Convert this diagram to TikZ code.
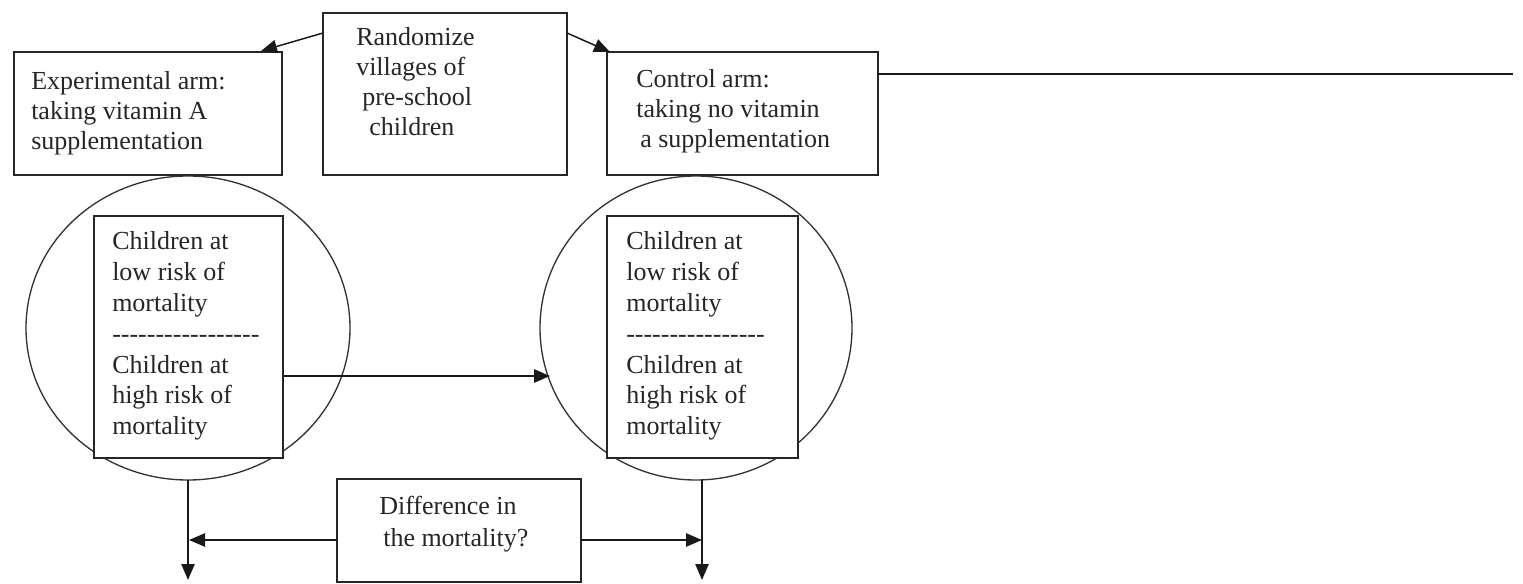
\documentclass[tikz,border=0pt]{standalone}
\usepackage{fontspec}
\setmainfont{Liberation Serif}
\usetikzlibrary{arrows.meta,shapes.geometric,fit}
\newcommand\hy{\mbox{-}}
\tikzset{
  box/.style={draw=black!85, line width=1.2pt, inner sep=0pt},
  txt/.style={anchor=north west, inner sep=0pt, align=left, text=black!85,
              font=\fontsize{19.5}{22.5}\selectfont},
  ell/.style={ellipse, draw=black!80, line width=1pt, inner sep=0pt},
  arr/.style={draw=black!90, line width=1.1pt, -{Triangle[length=12pt,width=10pt]}},
  ln/.style={draw=black!90, line width=1.1pt}
}
\begin{document}
\begin{tikzpicture}[x=0.75pt,y=-0.75pt]
\useasboundingbox (0,0) rectangle (1523,584);
% boxes
\node[box, fit={(323,13)(567,175)}] (rand) {};
\node[box, fit={(14,52)(282,175)}] (exp) {};
\node[box, fit={(607,52)(878,175)}] (ctrl) {};
\node[ell, minimum width=243pt, minimum height=228pt] (lell) at (188,328) {};
\node[ell, minimum width=234pt, minimum height=228pt] (rell) at (696,328) {};
\node[box, fill=white, fit={(94,216)(283,458)}] (linner) {};
\node[box, fill=white, fit={(607,216)(798,458)}] (rinner) {};
\node[box, fit={(337,479)(581,582)}] (diff) {};
% texts
\node[txt] (randtext) at (356,24) {\strut Randomize\\villages of\\\hspace*{4.5pt}pre-school\\\hspace*{9.75pt}children};
\node[txt] (exptext) at (31,68) {\strut Experimental arm:\\taking vitamin A\\supplementation};
\node[txt] (ctrltext) at (636,66) {\strut Control arm:\\taking no vitamin\\\hspace*{3pt}a supplementation};
\node[txt, font=\fontsize{19.5}{23.1}\selectfont] (ltext) at (112,228) {\strut Children at\\low risk of\\mortality\\\hy\hy\hy\hy\hy\hy\hy\hy\hy\hy\hy\hy\hy\hy\hy\hy\hy\\Children at\\high risk of\\mortality};
\node[txt, font=\fontsize{19.5}{23.1}\selectfont] (rtext) at (626,228) {\strut Children at\\low risk of\\mortality\\\hy\hy\hy\hy\hy\hy\hy\hy\hy\hy\hy\hy\hy\hy\hy\hy\\Children at\\high risk of\\mortality};
\node[txt, font=\fontsize{19.5}{24}\selectfont] (difftext) at (379,492) {\strut Difference in\\\hspace*{3pt}the mortality?};
% coordinates for connector ends
\coordinate (randL) at (323,33);
\coordinate (randR) at (567,33);
\coordinate (expTip) at (261,51);
\coordinate (ctrlTip) at (610,52);
\coordinate (lineStart) at (878,74);
\coordinate (lineEnd) at (1513,74);
\coordinate (fromL) at (283,376);
\coordinate (hitR) at (550,376);
\coordinate (lBot) at (188,480);
\coordinate (rBot) at (702,480);
\coordinate (lEnd) at (188,580);
\coordinate (rEnd) at (702,580);
\coordinate (diffL) at (337,540);
\coordinate (diffR) at (581,540);
\coordinate (lMid) at (189,540);
\coordinate (rMid) at (702,540);
% connectors
\draw[arr] (randL) -- (expTip);
\draw[arr] (randR) -- (ctrlTip);
\draw[ln] (lineStart) -- (lineEnd);
\draw[arr] (fromL) -- (hitR);
\draw[arr] (lBot) -- (lEnd);
\draw[arr] (rBot) -- (rEnd);
\draw[arr] (diffL) -- (lMid);
\draw[arr] (diffR) -- (rMid);
\end{tikzpicture}
\end{document}
